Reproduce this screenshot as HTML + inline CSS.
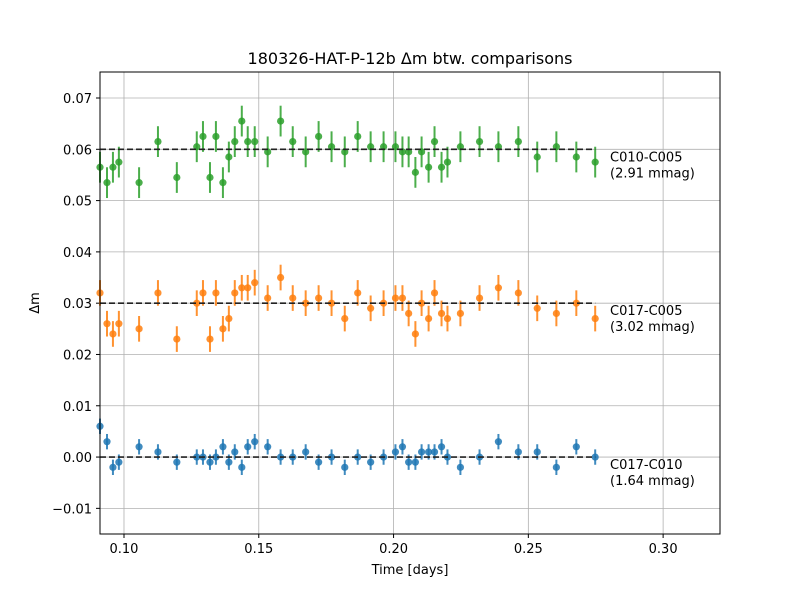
<!DOCTYPE html>
<html><head><meta charset="utf-8"><style>
body{margin:0;background:#fff;}
svg text{font-family:"DejaVu Sans","Liberation Sans",sans-serif;fill:#000;}
</style></head><body>
<svg id="chart" width="800" height="600" xmlns="http://www.w3.org/2000/svg">
<rect width="800" height="600" fill="#fff"/>
<text x="410" y="64" font-size="16" text-anchor="middle">180326-HAT-P-12b Δm btw. comparisons</text>
<g id="grid"></g><g id="ticks"></g><g id="series"></g>
<rect x="100" y="72" width="620" height="462" fill="none" stroke="#000" stroke-width="1"/>
<text x="410" y="574" font-size="13" text-anchor="middle">Time [days]</text>
<text x="0" y="0" font-size="13" text-anchor="middle" transform="translate(39,303) rotate(-90)">Δm</text>
</svg>
<script>
const times=[0.0911,0.0937,0.0959,0.0981,0.1056,0.1126,0.1196,0.127,0.1293,0.1319,0.1341,0.1367,0.1389,0.1411,0.1437,0.1459,0.1485,0.1533,0.1581,0.1626,0.1674,0.1722,0.177,0.1819,0.1867,0.1915,0.1963,0.2007,0.2033,0.2056,0.2081,0.2104,0.213,0.2152,0.2178,0.22,0.2248,0.2319,0.2389,0.2463,0.2533,0.2604,0.2678,0.2748];
const blueVals=[0.006,0.003,-0.002,-0.001,0.002,0.001,-0.001,0,0,-0.001,0,0.002,-0.001,0.001,-0.002,0.002,0.003,0.002,0,0,0.001,-0.001,0,-0.002,0,-0.001,0,0.001,0.002,-0.001,-0.001,0.001,0.001,0.001,0.002,0,-0.002,0,0.003,0.001,0.001,-0.002,0.002,0];
const orangeVals=[0.032,0.026,0.024,0.026,0.025,0.032,0.023,0.030,0.032,0.023,0.032,0.025,0.027,0.032,0.033,0.033,0.034,0.031,0.035,0.031,0.030,0.031,0.030,0.027,0.032,0.029,0.030,0.031,0.031,0.028,0.024,0.030,0.027,0.032,0.028,0.027,0.028,0.031,0.033,0.032,0.029,0.028,0.030,0.027];
const greenVals=[0.0565,0.0535,0.0565,0.0575,0.0535,0.0615,0.0545,0.0605,0.0625,0.0545,0.0625,0.0535,0.0585,0.0615,0.0655,0.0615,0.0615,0.0595,0.0655,0.0615,0.0595,0.0625,0.0605,0.0595,0.0625,0.0605,0.0605,0.0605,0.0595,0.0595,0.0555,0.0595,0.0565,0.0615,0.0565,0.0575,0.0605,0.0615,0.0605,0.0615,0.0585,0.0605,0.0585,0.0575];
const seriesErr=[0.0015,0.0025,0.003];
const seriesMeans=[0.0,0.03,0.06];
const seriesNames=["C017-C010","C017-C005","C010-C005"];
const seriesNotes=["(1.64 mmag)","(3.02 mmag)","(2.91 mmag)"];
const xTicks=[0.10,0.15,0.20,0.25,0.30];
const yTicks=[-0.01,0.00,0.01,0.02,0.03,0.04,0.05,0.06,0.07];
const colors=["#1f77b4","#ff7f0e","#2ca02c"];
const NS="http://www.w3.org/2000/svg";
const X0=0.0911,X1=0.3211,Y0=-0.015,Y1=0.07507;
const xs=v=>100+(v-X0)/(X1-X0)*620;
const ys=v=>534-(v-Y0)/(Y1-Y0)*462;
function mk(tag,attrs,parent){const e=document.createElementNS(NS,tag);for(const k in attrs)e.setAttribute(k,attrs[k]);parent.appendChild(e);return e;}
const grid=document.getElementById('grid'),ticks=document.getElementById('ticks'),ser=document.getElementById('series');
xTicks.forEach(t=>{const x=xs(t);
 const g=mk('line',{x1:x,x2:x,y1:72,y2:534,stroke:'#b0b0b0','stroke-width':0.8},grid);
 
 
 const tk=mk('line',{x1:x,x2:x,y1:534,y2:538,stroke:'#000'},ticks);
 
 
 const tx=mk('text',{x:x,y:553,'font-size':13,'text-anchor':'middle'},ticks);tx.textContent=t.toFixed(2);
 
 
});
yTicks.forEach(t=>{const y=ys(t);
 const g=mk('line',{x1:100,x2:720,y1:y,y2:y,stroke:'#b0b0b0','stroke-width':0.8},grid);
 
 
 const tk=mk('line',{x1:96,x2:100,y1:y,y2:y,stroke:'#000'},ticks);
 
 
 const tx=mk('text',{x:92,y:y+5,'font-size':13,'text-anchor':'end'},ticks);tx.textContent=(t<0?'\u2212':'')+Math.abs(t).toFixed(2);
 
 
});
[blueVals,orangeVals,greenVals].forEach((vals,si)=>{
 const g=mk('g',{},ser);
 
 
 vals.forEach((v,i)=>{const x=xs(times[i]);
  const eb=mk('line',{x1:x,x2:x,y1:ys(v-seriesErr[si]),y2:ys(v+seriesErr[si]),stroke:colors[si],'stroke-width':2,opacity:0.85},g);
  
  
  const c=mk('circle',{cx:x,cy:ys(v),r:3.6,fill:colors[si],opacity:0.85},g);
  
  
 });
 const m=seriesMeans[si];
 const l=mk('line',{x1:xs(times[0]),x2:xs(times[times.length-1]),y1:ys(m),y2:ys(m),stroke:'#222','stroke-width':1.6,'stroke-dasharray':'6,3'},g);
 
 
 const t1=mk('text',{x:610,y:ys(m)+12,'font-size':13},g);t1.textContent=seriesNames[si];
 
 
 const t2=mk('text',{x:610,y:ys(m)+28,'font-size':13},g);t2.textContent=seriesNotes[si];
 
 
});
</script>
</body></html>
